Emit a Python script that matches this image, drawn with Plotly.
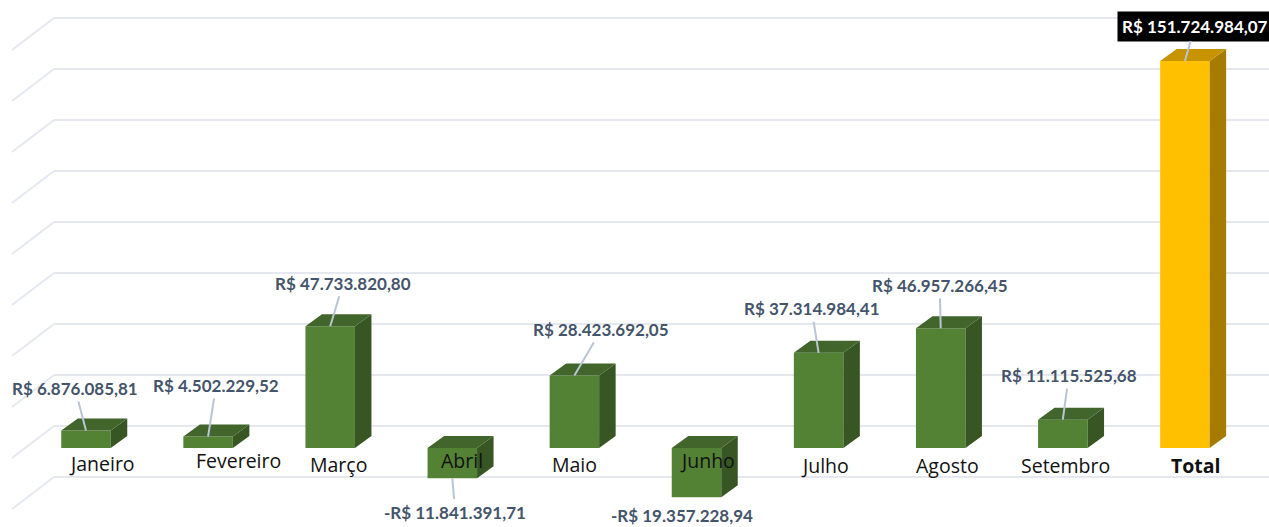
import plotly.graph_objects as go

# ---- data ----
categories = ["Janeiro", "Fevereiro", "Março", "Abril", "Maio", "Junho", "Julho", "Agosto", "Setembro", "Total"]
values = [6876085.81, 4502229.52, 47733820.80, -11841391.71, 28423692.05, -19357228.94,
          37314984.41, 46957266.45, 11115525.68, 151724984.07]
value_labels = ["R$ 6.876.085,81", "R$ 4.502.229,52", "R$ 47.733.820,80", "-R$ 11.841.391,71",
                "R$ 28.423.692,05", "-R$ 19.357.228,94", "R$ 37.314.984,41", "R$ 46.957.266,45",
                "R$ 11.115.525,68", "R$ 151.724.984,07"]
grid_values = [-20e6, 0, 20e6, 40e6, 60e6, 80e6, 100e6, 120e6, 140e6, 160e6]

# ---- layout helpers (pixels) ----
W, H = 1269, 527
PX_X0, PX_STEP = 86.0, 122.1      # centre of first column, column spacing
PX_Y0, PX_PER_UNIT = 448.0, 2.55e-6  # baseline, pixels per R$
label_offsets = [(-11, -42), (8, -51), (13, -43), (3, 34), (27, -46), (-15, 18),
                 (-7, -44), (-1, -43), (6, -44), (10, -35)]
cat_offsets = [(16, 15), (30, 12), (8, 16), (10, 12), (0, 16), (11, 12), (6, 17), (7, 17), (3, 17), (11, 17)]

BAR_W = 49.5 / PX_STEP
DX = 16.5 / PX_STEP
DY = 12.0 / PX_PER_UNIT
GREEN = ("#548235", "#41652a", "#375623")
GOLD = ("#ffc000", "#c79400", "#a67c00")


def to_x(px):
    return (px - PX_X0) / PX_STEP


def to_y(py):
    return (PX_Y0 - py) / PX_PER_UNIT


palette = [GOLD if c == "Total" else GREEN for c in categories]
idx = list(range(len(categories)))

fig = go.Figure()

fig.add_trace(go.Bar(
    x=idx, y=values, width=BAR_W,
    marker=dict(color=[p[0] for p in palette], line=dict(width=0)),
    hoverinfo="skip", showlegend=False,
))

# 3D side and top faces, derived from the values
for i, v in zip(idx, values):
    l, r = i - BAR_W / 2, i + BAR_W / 2
    top = max(v, 0)
    low = min(v, 0)
    fig.add_trace(go.Scatter(
        x=[r, r + DX, r + DX, r, r], y=[low, low + DY, top + DY, top, low],
        mode="lines", fill="toself", fillcolor=palette[i][2], line=dict(width=0),
        hoverinfo="skip", showlegend=False,
    ))
    fig.add_trace(go.Scatter(
        x=[l, l + DX, r + DX, r, l], y=[top, top + DY, top + DY, top, top],
        mode="lines", fill="toself", fillcolor=palette[i][1], line=dict(width=0),
        hoverinfo="skip", showlegend=False,
    ))

# floor/back wall gridlines
shapes = []
GRID_BACK_ZERO = 426.0
for g in grid_values:
    py = GRID_BACK_ZERO - g * PX_PER_UNIT
    xs = [to_x(12), to_x(54), to_x(W + 5)]
    ys = [to_y(py + 32), to_y(py), to_y(py)]
    for a in range(2):
        shapes.append(dict(type="line", xref="x", yref="y", layer="below",
                           x0=xs[a], y0=ys[a], x1=xs[a + 1], y1=ys[a + 1],
                           line=dict(color="#e6e8f0", width=2)))

annotations = []
for i, (v, txt, (ox, oy)) in enumerate(zip(values, value_labels, label_offsets)):
    total = categories[i] == "Total"
    annotations.append(dict(
        x=i, y=v, xref="x", yref="y", text=txt, showarrow=True, arrowhead=0,
        ax=ox, ay=oy, arrowwidth=2,
        arrowcolor="rgba(0,0,0,0)" if categories[i] == "Junho" else "#b9c4d4",
        font=dict(family="Lato", size=17, color="#ffffff" if total else "#44546a", weight="bold"),
        bgcolor="#000000" if total else None,
        borderpad=4 if total else (0 if categories[i] == "Junho" else 2),
    ))
for i, (c, (ox, oy)) in enumerate(zip(categories, cat_offsets)):
    annotations.append(dict(
        x=i, y=0, xref="x", yref="y", text=c, showarrow=False,
        xshift=ox, yshift=-oy,
        font=dict(family="Open Sans", size=19.5, color="#111111",
                  weight="bold" if c == "Total" else "normal"),
    ))

fig.update_layout(
    width=W, height=H, margin=dict(l=0, r=0, t=0, b=0),
    paper_bgcolor="#ffffff", plot_bgcolor="#ffffff", showlegend=False,
    xaxis=dict(range=[to_x(0), to_x(W)], visible=False, fixedrange=True),
    yaxis=dict(range=[to_y(H), to_y(0)], visible=False, fixedrange=True),
    shapes=shapes, annotations=annotations,
)

fig.write_html("out.html", config={"displayModeBar": False},
               post_script="document.body.style.margin='0';document.body.style.overflow='hidden';")
